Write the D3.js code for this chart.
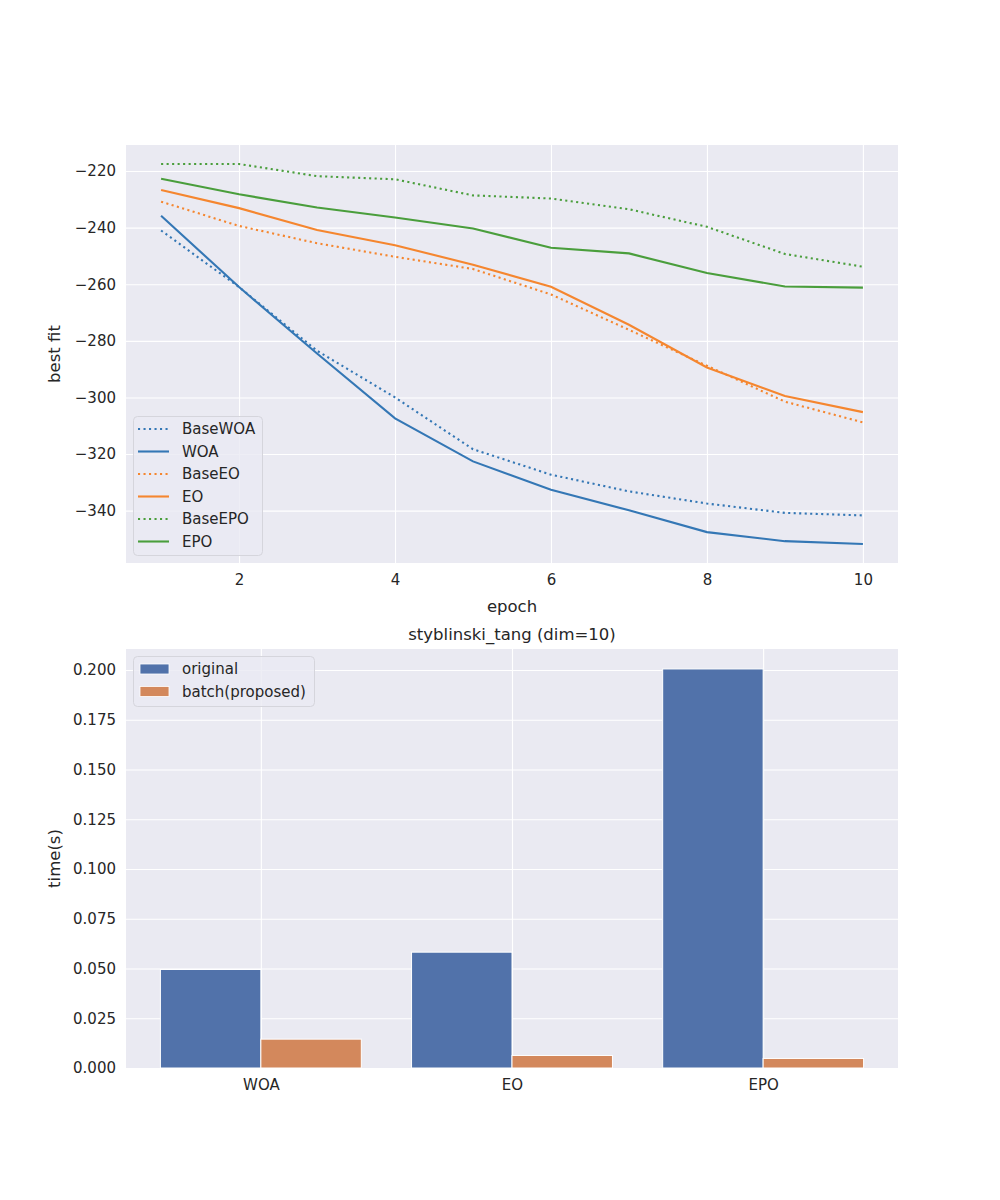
<!DOCTYPE html>
<html>
<head>
<meta charset="utf-8">
<script src="https://cdn.jsdelivr.net/npm/d3@7"></script>
<style>
  body { margin: 0; background: #fff; }
  text { font-family: "DejaVu Sans", sans-serif; fill: #262626; }
</style>
</head>
<body>
<div id="chart"></div>
<script>
// data
var epochs = [1, 2, 3, 4, 5, 6, 7, 8, 9, 10];
var baseWOA = [-241.0, -261.0, -283.5, -300.0, -318.3, -327.3, -333.2, -337.5, -340.8, -341.7];
var woa     = [-235.8, -261.0, -284.5, -307.4, -322.6, -332.6, -339.9, -347.6, -350.8, -351.8];
var baseEO  = [-230.8, -239.4, -245.5, -250.3, -254.6, -263.6, -276.1, -288.8, -301.5, -308.8];
var eo      = [-226.7, -233.1, -240.8, -246.2, -253.1, -260.9, -274.3, -289.4, -299.5, -305.2];
var baseEPO = [-217.5, -217.5, -221.8, -222.9, -228.6, -229.7, -233.5, -239.7, -249.3, -253.8];
var epo     = [-222.7, -228.2, -232.9, -236.4, -240.3, -247.1, -249.1, -256.0, -260.8, -261.2];
var lineNames = ["BaseWOA", "WOA", "BaseEO", "EO", "BaseEPO", "EPO"];

var algos = ["WOA", "EO", "EPO"];
var timeOriginal = [0.0495, 0.0582, 0.2005];
var timeBatch = [0.0145, 0.0063, 0.0048];
var barNames = ["original", "batch(proposed)"];
var barTitle = "styblinski_tang (dim=10)";

var W = 1000, H = 1200;
var svg = d3.select("#chart").append("svg").attr("width", W).attr("height", H);

var left = 126, right = 898;
var bg = "#eaeaf2";
var fmtMinus = function(d){ return d3.format("d")(d).replace("-", "\u2212"); };

// ---------- top chart: best fit per epoch ----------
var t = {top: 145, bottom: 563};
var allY = [].concat(baseWOA, woa, baseEO, eo, baseEPO, epo);
var yMin = d3.min(allY), yMax = d3.max(allY), yPad = (yMax - yMin) * 0.05;
var x1 = d3.scaleLinear().domain([1 - 0.45, 10 + 0.45]).range([left, right]);
var y1 = d3.scaleLinear().domain([yMin - yPad, yMax + yPad]).range([t.bottom, t.top]);

var g1 = svg.append("g");
g1.append("rect").attr("x", left).attr("y", t.top).attr("width", right - left)
  .attr("height", t.bottom - t.top).attr("fill", bg);

var xAxis1 = g1.append("g").attr("transform", "translate(0," + t.bottom + ")")
  .call(d3.axisBottom(x1).tickValues([2, 4, 6, 8, 10]).tickSize(-(t.bottom - t.top)).tickPadding(11));
var yAxis1 = g1.append("g").attr("transform", "translate(" + left + ",0)")
  .call(d3.axisLeft(y1).tickValues([-340, -320, -300, -280, -260, -240, -220])
    .tickFormat(fmtMinus).tickSize(-(right - left)).tickPadding(10));
[xAxis1, yAxis1].forEach(function(a){
  a.select(".domain").remove();
  a.selectAll("line").attr("stroke", "#fff").attr("stroke-width", 1.1);
  a.selectAll("text").attr("font-size", "15px").attr("fill", "#262626");
});

var seriesList = [baseWOA, woa, baseEO, eo, baseEPO, epo];
var lineColors = ["#3477b5", "#3477b5", "#f5862f", "#f5862f", "#4a9e3c", "#4a9e3c"];
var dotted = [true, false, true, false, true, false];

var line = d3.line().x(function(d, i){ return x1(epochs[i]); }).y(function(d){ return y1(d); });
seriesList.forEach(function(s, k){
  g1.append("path").datum(s).attr("d", line).attr("fill", "none")
    .attr("stroke", lineColors[k]).attr("stroke-width", 2.1)
    .attr("stroke-dasharray", dotted[k] ? "2.1,3.4" : null);
});

// legend
var lg1 = g1.append("g");
lg1.append("rect").attr("x", 133.5).attr("y", 416.5).attr("width", 129).attr("height", 139)
  .attr("rx", 4).attr("fill", bg).attr("fill-opacity", 0.8).attr("stroke", "#d5d5dc");
lineNames.forEach(function(n, k){
  var yy = 429 + k * 22.5;
  lg1.append("line").attr("x1", 138).attr("x2", 169).attr("y1", yy).attr("y2", yy)
    .attr("stroke", lineColors[k]).attr("stroke-width", 2.1)
    .attr("stroke-dasharray", dotted[k] ? "2.1,3.4" : null);
  lg1.append("text").attr("x", 182).attr("y", yy + 5).attr("font-size", "15px").text(n);
});

g1.append("text").attr("x", (left + right) / 2).attr("y", 612).attr("text-anchor", "middle")
  .attr("font-size", "16.5px").text("epoch");
g1.append("text").attr("transform", "translate(60," + ((t.top + t.bottom) / 2) + ") rotate(-90)")
  .attr("text-anchor", "middle").attr("font-size", "16.5px").text("best fit");

// ---------- bottom chart: run time ----------
var b = {top: 649, bottom: 1068};
var x2 = d3.scaleLinear().domain([-0.537, algos.length - 1 + 0.537]).range([left, right]);
var y2 = d3.scaleLinear().domain([0, d3.max(timeOriginal.concat(timeBatch)) * 1.05]).range([b.bottom, b.top]);

var g2 = svg.append("g");
g2.append("rect").attr("x", left).attr("y", b.top).attr("width", right - left)
  .attr("height", b.bottom - b.top).attr("fill", bg);

var xAxis2 = g2.append("g").attr("transform", "translate(0," + b.bottom + ")")
  .call(d3.axisBottom(x2).tickValues(d3.range(algos.length)).tickFormat(function(i){ return algos[i]; })
    .tickSize(-(b.bottom - b.top)).tickPadding(11));
var yAxis2 = g2.append("g").attr("transform", "translate(" + left + ",0)")
  .call(d3.axisLeft(y2).tickValues(d3.range(0, 0.2001, 0.025)).tickFormat(d3.format(".3f"))
    .tickSize(-(right - left)).tickPadding(10));
[xAxis2, yAxis2].forEach(function(a){
  a.select(".domain").remove();
  a.selectAll("line").attr("stroke", "#fff").attr("stroke-width", 1.1);
  a.selectAll("text").attr("font-size", "15px").attr("fill", "#262626");
});

var barColors = ["#5172aa", "#d3885c"];
var barW = 0.4;
[timeOriginal, timeBatch].forEach(function(vals, k){
  g2.selectAll(".bar" + k).data(vals).enter().append("rect")
    .attr("class", "bar" + k)
    .attr("x", function(d, i){ return x2(i - barW + k * barW); })
    .attr("width", x2(barW) - x2(0))
    .attr("y", function(d){ return y2(d); })
    .attr("height", function(d){ return y2(0) - y2(d); })
    .attr("fill", barColors[k]).attr("stroke", "#fff").attr("stroke-width", 1);
});

var lg2 = g2.append("g");
lg2.append("rect").attr("x", 133.5).attr("y", 656.5).attr("width", 181).attr("height", 50)
  .attr("rx", 4).attr("fill", bg).attr("fill-opacity", 0.8).attr("stroke", "#d5d5dc");
barNames.forEach(function(n, k){
  var yy = 669 + k * 22.5;
  lg2.append("rect").attr("x", 140).attr("y", yy - 5).attr("width", 29).attr("height", 10)
    .attr("fill", barColors[k]).attr("stroke", "#fff").attr("stroke-width", 0.8);
  lg2.append("text").attr("x", 182).attr("y", yy + 5).attr("font-size", "15px").text(n);
});

g2.append("text").attr("x", (left + right) / 2).attr("y", 640).attr("text-anchor", "middle")
  .attr("font-size", "16.5px").text(barTitle);
g2.append("text").attr("transform", "translate(60," + ((b.top + b.bottom) / 2) + ") rotate(-90)")
  .attr("text-anchor", "middle").attr("font-size", "16.5px").text("time(s)");
</script>
</body>
</html>
